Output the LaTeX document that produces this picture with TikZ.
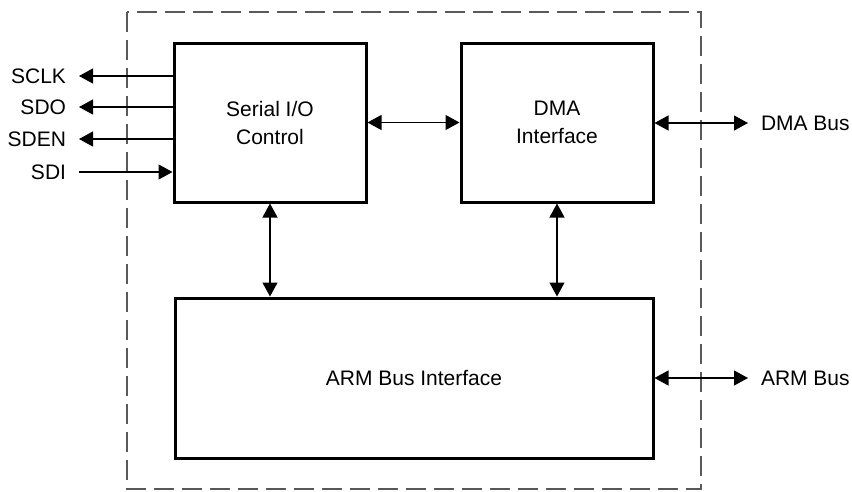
\documentclass[tikz,border=0pt]{standalone}
\usepackage{fontspec}
\setmainfont{Liberation Sans}
\usepackage{tikz}
\usetikzlibrary{arrows.meta}

\tikzset{
    blockbox/.style={draw, line width=3pt, inner sep=0pt, align=center,
        font=\fontsize{21}{28}\selectfont},
    sig/.style={inner sep=0pt, outer xsep=13pt, font=\fontsize{21}{25}\selectfont},
    wire/.style={line width=1.2pt, -{Triangle[length=14pt,width=15pt]}},
    bus/.style={line width=1.2pt, {Triangle[length=14pt,width=15pt]}-{Triangle[length=14pt,width=15pt]}}
}

\begin{document}
\begin{tikzpicture}[x=1pt,y=-1pt]
        \useasboundingbox (0,0) rectangle (852,491);
        % chip outline
        \draw[line width=1.5pt, black!65, dash pattern=on 20pt off 8pt] (127,12) rectangle (701,489);

        \node[blockbox, minimum width=192pt, minimum height=159pt] (serial) at (270,122.5) {Serial I/O\\Control};
        \node[blockbox, minimum width=192pt, minimum height=159pt] (dma) at (557,122.5) {DMA\\Interface};
        \node[blockbox, minimum width=478pt, minimum height=160pt] (arm) at (414,378) {ARM Bus Interface};

        % serial pins
        \node[sig, anchor=east] (sclk) at (79,76) {SCLK};
        \node[sig, anchor=east] (sdo) at (79,107) {SDO};
        \node[sig, anchor=east] (sden) at (79,139) {SDEN};
        \node[sig, anchor=east] (sdi) at (79,172) {SDI};
        \draw[wire] (serial.west |- sclk) -- (sclk.east);
        \draw[wire] (serial.west |- sdo) -- (sdo.east);
        \draw[wire] (serial.west |- sden) -- (sden.east);
        \draw[wire] (sdi.east) -- (serial.west |- sdi);

        % external buses
        \node[sig, anchor=west] (dmabus) at (748,123) {DMA Bus};
        \node[sig, anchor=west] (armbus) at (748,378) {ARM Bus};
        \draw[bus] (dma.east |- dmabus) -- (dmabus.west);
        \draw[bus] (arm.east |- armbus) -- (armbus.west);

        % internal
        \draw[bus] (serial.east) -- (dma.west);
        \draw[bus] (serial.south) -- (serial.south |- arm.north);
        \draw[bus] (dma.south) -- (dma.south |- arm.north);
    \end{tikzpicture}
\end{document}
